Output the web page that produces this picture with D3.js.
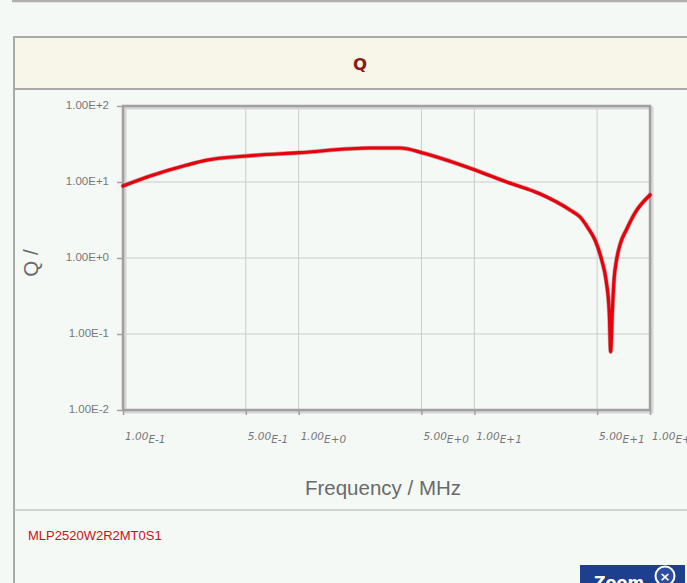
<!DOCTYPE html>
<html><head><meta charset="utf-8">
<script src="https://cdn.jsdelivr.net/npm/d3@7"></script>
<style>
html,body{margin:0;padding:0;background:#f5f9f6;overflow:hidden;}
svg{display:block;}
</style></head>
<body>
<script>
// ---- data ----
const freqMHz = [0.1, 0.143, 0.231, 0.3, 0.508, 1.01, 2.55, 3.77, 5.1, 6.37, 10.1, 15.3, 23.6, 35.1, 40.0, 44.4, 48.6, 53.1, 56.2, 58.66, 59.7, 61.0, 62.4, 64.5, 67.5, 73.7, 82.1, 100];
const qValues = [8.86, 12.0, 16.7, 19.4, 22.0, 24.3, 28.0, 28.0, 24.1, 20.7, 14.4, 10.0, 7.0, 4.28, 3.46, 2.48, 1.73, 0.94, 0.514, 0.189, 0.0585, 0.189, 0.514, 0.94, 1.50, 2.40, 3.91, 6.75];
const xTicks = [0.1, 0.5, 1, 5, 10, 50, 100];
const xTickLabels = ["1.00E-1", "5.00E-1", "1.00E+0", "5.00E+0", "1.00E+1", "5.00E+1", "1.00E+2"];
const yTicks = [100, 10, 1, 0.1, 0.01];
const yTickLabels = ["1.00E+2", "1.00E+1", "1.00E+0", "1.00E-1", "1.00E-2"];
const chartTitle = "Q";
const xTitle = "Frequency / MHz";
const yTitle = "Q /";
const partName = "MLP2520W2R2MT0S1";

const W = 687, H = 583;
const svg = d3.select("body").append("svg").attr("width", W).attr("height", H);

// page chrome
svg.append("rect").attr("x", 0).attr("y", 0).attr("width", W).attr("height", H).attr("fill", "#f5f9f6");
svg.append("line").attr("x1", 12).attr("x2", W).attr("y1", 1).attr("y2", 1).attr("stroke", "#b0b0b0").attr("stroke-width", 2.5);
svg.append("rect").attr("x", 14).attr("y", 37).attr("width", W).attr("height", 52).attr("fill", "#f7f6e8");
svg.append("line").attr("x1", 14).attr("x2", W).attr("y1", 37).attr("y2", 37).attr("stroke", "#aaaaaa").attr("stroke-width", 2);
svg.append("line").attr("x1", 14).attr("x2", W).attr("y1", 89).attr("y2", 89).attr("stroke", "#aaaaaa").attr("stroke-width", 2);
svg.append("line").attr("x1", 14).attr("x2", 14).attr("y1", 36).attr("y2", H).attr("stroke", "#aaaaaa").attr("stroke-width", 2);
svg.append("line").attr("x1", 14).attr("x2", W).attr("y1", 510).attr("y2", 510).attr("stroke", "#c4c4c4").attr("stroke-width", 1.5);

svg.append("text").attr("x", 360).attr("y", 70).attr("text-anchor", "middle")
  .attr("font-family", "DejaVu Sans, sans-serif").attr("font-size", 16.5).attr("font-weight", "bold").attr("fill", "#8b1a1a")
  .text(chartTitle);

// plot
const m = {left: 123, right: 650, top: 106, bottom: 410};
const x = d3.scaleLog().domain([0.1, 100]).range([m.left, m.right]);
const y = d3.scaleLog().domain([0.01, 100]).range([m.bottom, m.top]);

const g = svg.append("g");
// grid
g.append("g").selectAll("line").data(xTicks.slice(1, -1)).join("line")
  .attr("x1", d => x(d)).attr("x2", d => x(d)).attr("y1", m.top).attr("y2", m.bottom)
  .attr("stroke", "#cbcbcb").attr("stroke-width", 1);
g.append("g").selectAll("line").data(yTicks.slice(1, -1)).join("line")
  .attr("x1", m.left).attr("x2", m.right).attr("y1", d => y(d)).attr("y2", d => y(d))
  .attr("stroke", "#cbcbcb").attr("stroke-width", 1);

// frame shadow + frame
g.append("rect").attr("x", m.left + 2).attr("y", m.top + 2).attr("width", m.right - m.left).attr("height", m.bottom - m.top)
  .attr("fill", "none").attr("stroke", "#d6d6d6").attr("stroke-width", 3);
g.append("rect").attr("x", m.left).attr("y", m.top).attr("width", m.right - m.left).attr("height", m.bottom - m.top)
  .attr("fill", "none").attr("stroke", "#a0a0a0").attr("stroke-width", 2.5);

// y axis
const yAxis = d3.axisLeft(y).tickValues(yTicks).tickFormat((d, i) => yTickLabels[i]).tickSize(6).tickPadding(8);
const ya = g.append("g").attr("transform", `translate(${m.left},0)`).call(yAxis);
ya.select(".domain").remove();
ya.selectAll(".tick line").attr("stroke", "#a0a0a0").attr("stroke-width", 1.5);
ya.selectAll(".tick text").attr("font-family", "Liberation Sans, Arial, sans-serif").attr("font-size", 11.5).attr("fill", "#777").attr("dy", "0.2em");

// x axis
const xAxis = d3.axisBottom(x).tickValues(xTicks).tickFormat(() => "").tickSize(5);
const xa = g.append("g").attr("transform", `translate(0,${m.bottom})`).call(xAxis);
xa.select(".domain").remove();
xa.selectAll(".tick line").attr("stroke", "#a0a0a0").attr("stroke-width", 1.5);
const xl = g.append("g").selectAll("text").data(xTicks).join("text")
  .attr("x", d => x(d) + 2).attr("y", 440)
  .attr("font-family", "DejaVu Sans, sans-serif").attr("font-size", 10.5).attr("font-style", "italic").attr("fill", "#777");
xl.append("tspan").text((d, i) => xTickLabels[i].split("E")[0]);
xl.append("tspan").attr("dy", 2.5).text((d, i) => "E" + xTickLabels[i].split("E")[1]);

// titles
svg.append("text").attr("x", 383).attr("y", 495).attr("text-anchor", "middle")
  .attr("font-family", "Liberation Sans, Arial, sans-serif").attr("font-size", 20.5).attr("fill", "#6a6a6a")
  .text(xTitle);
svg.append("text").attr("transform", "translate(38,263) rotate(-90)").attr("text-anchor", "middle")
  .attr("font-family", "Liberation Sans, Arial, sans-serif").attr("font-size", 20.5).attr("fill", "#6a6a6a")
  .text(yTitle);

// curve
const pts = freqMHz.map((f, i) => [f, qValues[i]]);
const line = d3.line().x(d => x(d[0])).y(d => y(d[1])).curve(d3.curveMonotoneX);
g.append("path").datum(pts).attr("d", line).attr("fill", "none")
  .attr("stroke", "#7a0000").attr("stroke-opacity", 0.35).attr("stroke-width", 4.5)
  .attr("stroke-linejoin", "round").attr("stroke-linecap", "round");
g.append("path").datum(pts).attr("d", line).attr("fill", "none")
  .attr("stroke", "#e8000c").attr("stroke-width", 3.2)
  .attr("stroke-linejoin", "round").attr("stroke-linecap", "round");

// part name
svg.append("text").attr("x", 28).attr("y", 540)
  .attr("font-family", "Liberation Sans, Arial, sans-serif").attr("font-size", 13).attr("fill", "#cc1111")
  .text(partName);

// zoom button
const zb = svg.append("g");
zb.append("rect").attr("x", 580).attr("y", 565).attr("width", 105).attr("height", 30).attr("fill", "#1d3f8e");
zb.append("text").attr("x", 594).attr("y", 588).attr("font-family", "DejaVu Sans, sans-serif").attr("font-weight", "bold")
  .attr("font-size", 16).attr("fill", "#ffffff").text("Zoom");
zb.append("circle").attr("cx", 665).attr("cy", 576).attr("r", 9.5).attr("fill", "#2a4f9e").attr("stroke", "#ffffff").attr("stroke-width", 2);
zb.append("text").attr("x", 665).attr("y", 581).attr("text-anchor", "middle").attr("font-family", "DejaVu Sans, sans-serif")
  .attr("font-weight", "bold").attr("font-size", 13).attr("fill", "#ffffff").text("×");
</script>
</body></html>
